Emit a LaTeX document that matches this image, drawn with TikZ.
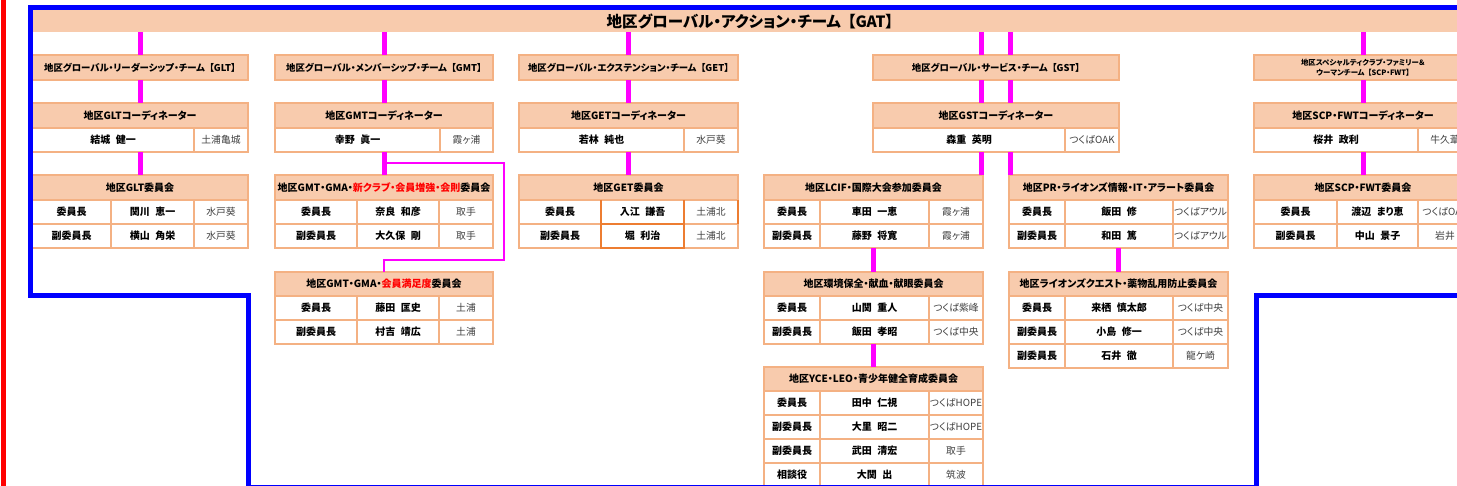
\documentclass[tikz,border=0pt]{standalone}
\usepackage{fontspec}
\setmainfont{Noto Sans CJK JP}[RawFeature=+palt]
\usetikzlibrary{calc}
\definecolor{peach}{HTML}{F8CBAD}
\definecolor{bord}{HTML}{F4B183}
\definecolor{dorange}{HTML}{ED7D31}
\definecolor{locgray}{HTML}{404040}
\definecolor{pureblue}{HTML}{0000FF}
\definecolor{purered}{HTML}{FF0000}
\definecolor{pink}{HTML}{FF00FF}
\newcommand\gap{\hspace{0.55em}}
\newcommand\tg{\hspace{0.45em}}
\newcommand\rd[1]{\textcolor{purered}{#1}}
\newcommand\cellat[7]{%
  \pgfmathsetmacro\CW{#4-(#2)}%
  \pgfmathsetmacro\CH{#5-(#3)}%
  \pgfmathsetmacro\CX{(#2+#4)/2}%
  \pgfmathsetmacro\CY{(#3+#5)/2}%
  \node[#6, minimum width=\CW pt, minimum height=\CH pt] (#1) at (\CX,\CY) {#7};%
}
\newcommand\trow[6]{%
  \cellat{#1r}{\ColA}{#2}{\ColB}{#3}{role}{#4}%
  \cellat{#1n}{\ColB}{#2}{\ColC}{#3}{nm}{#5}%
  \cellat{#1l}{\ColC}{#2}{\ColD}{#3}{lc}{#6}%
}
\tikzset{
  cellbase/.style={draw=bord, line width=1.8pt, inner sep=0pt, outer sep=0pt, align=center},
  hdr/.style={cellbase, fill=peach, font=\bfseries\fontsize{10}{12}\selectfont},
  team/.style={hdr, font=\bfseries\fontsize{9.4}{11}\selectfont},
  role/.style={cellbase, fill=white, font=\bfseries\fontsize{10}{12}\selectfont},
  nm/.style={role},
  lc/.style={cellbase, fill=white, text=locgray, font=\fontsize{9.8}{12}\selectfont},
  conn/.style={draw=pink, line width=5pt},
  thinconn/.style={draw=pink, line width=2pt},
  band/.style={fill=peach, inner sep=0pt, outer sep=0pt, font=\bfseries\fontsize{15.5}{18}\selectfont},
  wall/.style={draw=pureblue, line width=5pt},
}
\begin{document}
\begin{tikzpicture}[x=1pt,y=-1pt]
\useasboundingbox (0,0) rectangle (1457,486);
\clip (0,0) rectangle (1457,486);
% GAT band
\cellat{gat}{33}{10}{1467}{32}{band}{地区グローバル・アクション・チーム\tg【GAT】}
% ---------------- GLT
\cellat{gltt}{32}{55}{248}{80}{team}{地区グローバル・リーダーシップ・チーム\tg【GLT】}
\cellat{gltkh}{32}{103}{248}{128}{hdr}{地区GLTコーディネーター}
\cellat{gltkn}{32}{128}{194}{152}{nm}{結城\gap 健一}
\cellat{gltkl}{194}{128}{248}{152}{lc}{土浦亀城}
\def\ColA{32}\def\ColB{111}\def\ColC{194}\def\ColD{248}
\cellat{gltch}{\ColA}{175}{\ColD}{200}{hdr}{地区GLT委員会}
\trow{glta}{200}{224}{委員長}{関川\gap 恵一}{水戸葵}
\trow{gltb}{224}{248}{副委員長}{横山\gap 角栄}{水戸葵}
% ---------------- GMT
\cellat{gmtt}{275}{55}{493}{80}{team}{地区グローバル・メンバーシップ・チーム\tg【GMT】}
\cellat{gmtkh}{275}{103}{493}{128}{hdr}{地区GMTコーディネーター}
\cellat{gmtkn}{275}{128}{440}{152}{nm}{幸野\gap 眞一}
\cellat{gmtkl}{440}{128}{493}{152}{lc}{霞ヶ浦}
\def\ColA{275}\def\ColB{357}\def\ColC{439}\def\ColD{493}
\cellat{gmah}{\ColA}{175}{\ColD}{200}{hdr}{地区GMT・GMA・\rd{新クラブ・会員増強・会則}委員会}
\trow{gmaa}{200}{224}{委員長}{奈良\gap 和彦}{取手}
\trow{gmab}{224}{248}{副委員長}{大久保\gap 剛}{取手}
\cellat{gmsh}{\ColA}{272}{\ColD}{296}{hdr}{地区GMT・GMA・\rd{会員満足度}委員会}
\trow{gmsa}{296}{320}{委員長}{藤田\gap 匡史}{土浦}
\trow{gmsb}{320}{344}{副委員長}{村吉\gap 靖広}{土浦}
% ---------------- GET
\cellat{gett}{519}{55}{738}{80}{team}{地区グローバル・エクステンション・チーム\tg【GET】}
\cellat{getkh}{519}{103}{738}{128}{hdr}{地区GETコーディネーター}
\cellat{getkn}{519}{128}{684}{152}{nm}{若林\gap 純也}
\cellat{getkl}{684}{128}{738}{152}{lc}{水戸葵}
\def\ColA{519}\def\ColB{601}\def\ColC{684}\def\ColD{738}
\cellat{getch}{\ColA}{175}{\ColD}{200}{hdr}{地区GET委員会}
\trow{geta}{200}{224}{委員長}{入江\gap 謙吾}{土浦北}
\trow{getb}{224}{248}{副委員長}{堀\gap 利治}{土浦北}
\draw[draw=dorange, line width=1.8pt] (getan.north west) -- (getbn.south west) -- (getbn.south east) -- (getan.north east);
\draw[draw=dorange, line width=1.8pt] (getan.south west) -- (getan.south east);
\draw[draw=dorange, line width=1.8pt] (getal.north east) -- (getal.south east);
% ---------------- GST
\cellat{gstt}{873}{55}{1119}{80}{team}{地区グローバル・サービス・チーム\tg【GST】}
\cellat{gstkh}{873}{103}{1119}{128}{hdr}{地区GSTコーディネーター}
\cellat{gstkn}{873}{128}{1065}{152}{nm}{森重\gap 英明}
\cellat{gstkl}{1065}{128}{1119}{152}{lc}{つくばOAK}
\def\ColA{764}\def\ColB{820}\def\ColC{929}\def\ColD{983}
\cellat{lcifh}{\ColA}{175}{\ColD}{200}{hdr}{地区LCIF・国際大会参加委員会}
\trow{lcifa}{200}{224}{委員長}{車田\gap 一恵}{霞ヶ浦}
\trow{lcifb}{224}{248}{副委員長}{藤野\gap 将寛}{霞ヶ浦}
\cellat{envh}{\ColA}{272}{\ColD}{296}{hdr}{地区環境保全・献血・献眼委員会}
\trow{enva}{296}{320}{委員長}{山関\gap 重人}{つくば紫峰}
\trow{envb}{320}{344}{副委員長}{飯田\gap 孝昭}{つくば中央}
\cellat{yceh}{\ColA}{367}{\ColD}{391}{hdr}{地区YCE・LEO・青少年健全育成委員会}
\trow{ycea}{391}{415}{委員長}{田中\gap 仁視}{つくばHOPE}
\trow{yceb}{415}{439}{副委員長}{大里\gap 昭二}{つくばHOPE}
\trow{ycec}{439}{463}{副委員長}{武田\gap 清宏}{取手}
\trow{yced}{463}{487}{相談役}{大関\gap 出}{筑波}
\def\ColA{1009}\def\ColB{1065}\def\ColC{1173}\def\ColD{1228}
\cellat{prh}{\ColA}{175}{\ColD}{200}{hdr}{地区PR・ライオンズ情報・IT・アラート委員会}
\trow{pra}{200}{224}{委員長}{飯田\gap 修}{つくばアウル}
\trow{prb}{224}{248}{副委員長}{和田\gap 篤}{つくばアウル}
\cellat{lqh}{\ColA}{272}{\ColD}{296}{hdr}{地区ライオンズクエスト・薬物乱用防止委員会}
\trow{lqa}{296}{320}{委員長}{来栖\gap 慎太郎}{つくば中央}
\trow{lqb}{320}{344}{副委員長}{小島\gap 修一}{つくば中央}
\trow{lqc}{344}{368}{副委員長}{石井\gap 徹}{龍ケ崎}
% ---------------- SCP
\cellat{scpt}{1254}{55}{1472}{80}{hdr, font=\bfseries\fontsize{7.4}{10.5}\selectfont}{地区スペシャルティクラブ・ファミリー＆\\ウーマンチーム\tg【SCP・FWT】}
\cellat{scpkh}{1254}{103}{1472}{128}{hdr}{地区SCP・FWTコーディネーター}
\cellat{scpkn}{1254}{128}{1418}{152}{nm}{桜井\gap 政利}
\cellat{scpkl}{1418}{128}{1472}{152}{lc}{牛久葦}
\def\ColA{1254}\def\ColB{1337}\def\ColC{1418}\def\ColD{1472}
\cellat{scpch}{\ColA}{175}{\ColD}{200}{hdr}{地区SCP・FWT委員会}
\trow{scpa}{200}{224}{委員長}{渡辺\gap まり恵}{つくばOAK}
\trow{scpb}{224}{248}{副委員長}{中山\gap 景子}{岩井}
% ---------------- connectors
\draw[conn] (gltt.north) -- (gltt.north |- gat.south);
\draw[conn] (gltt.south) -- (gltkh.north);
\draw[conn] (gltkh.center |- gltkn.south) -- (gltch.north);
\draw[conn] (gmtt.north) -- (gmtt.north |- gat.south);
\draw[conn] (gmtt.south) -- (gmtkh.north);
\draw[conn] (gmtkh.center |- gmtkn.south) -- (gmah.north);
\coordinate (gmfork) at ($(gmtkh.center |- gmtkn.south)!0.5!(gmah.north)$);
\coordinate (gmedge) at (504,0);
\coordinate (gmlow) at ([yshift=12pt]gmsh.north);
\draw[thinconn] (gmfork) -- (gmfork -| gmedge) -- (gmedge |- gmlow) -- (gmlow) -- (gmsh.north);
\draw[conn] (gett.north) -- (gett.north |- gat.south);
\draw[conn] (gett.south) -- (getkh.north);
\draw[conn] (getkh.center |- getkn.south) -- (getch.north);
\coordinate (gxa) at ([xshift=-1.5pt]lcifh.north east);
\coordinate (gxb) at ([xshift=1pt]prh.north west);
\draw[conn] (gxa |- gstt.north) -- (gxa |- gat.south);
\draw[conn] (gxa |- gstkh.north) -- (gxa |- gstt.south);
\draw[conn] (gxa) -- (gxa |- gstkn.south);
\draw[conn] (gxb |- gstt.north) -- (gxb |- gat.south);
\draw[conn] (gxb |- gstkh.north) -- (gxb |- gstt.south);
\draw[conn] (gxb) -- (gxb |- gstkn.south);
\draw[conn] (lcifh.center |- lcifbn.south) -- (envh.north);
\draw[conn] (envh.center |- envbn.south) -- (yceh.north);
\draw[conn] (prh.center |- prbn.south) -- (lqh.north);
\draw[conn] (scpt.north) -- (scpt.north |- gat.south);
\draw[conn] (scpt.south) -- (scpkh.north);
\draw[conn] (scpkh.center |- scpkn.south) -- (scpch.north);
% ---------------- frame lines
\draw[wall] (1462,7.5) -- (30.8,7.5) -- (30.8,295.5) -- (248.7,295.5) -- (248.7,492);
\draw[wall] (1256,492) -- (1256,295.5) -- (1462,295.5);
\draw[draw=pureblue, line width=1.3pt] (248.7,485.6) -- (1256,485.6);
\draw[draw=purered, line width=5pt] (3.5,-2) -- (3.5,490);
\end{tikzpicture}
\end{document}
